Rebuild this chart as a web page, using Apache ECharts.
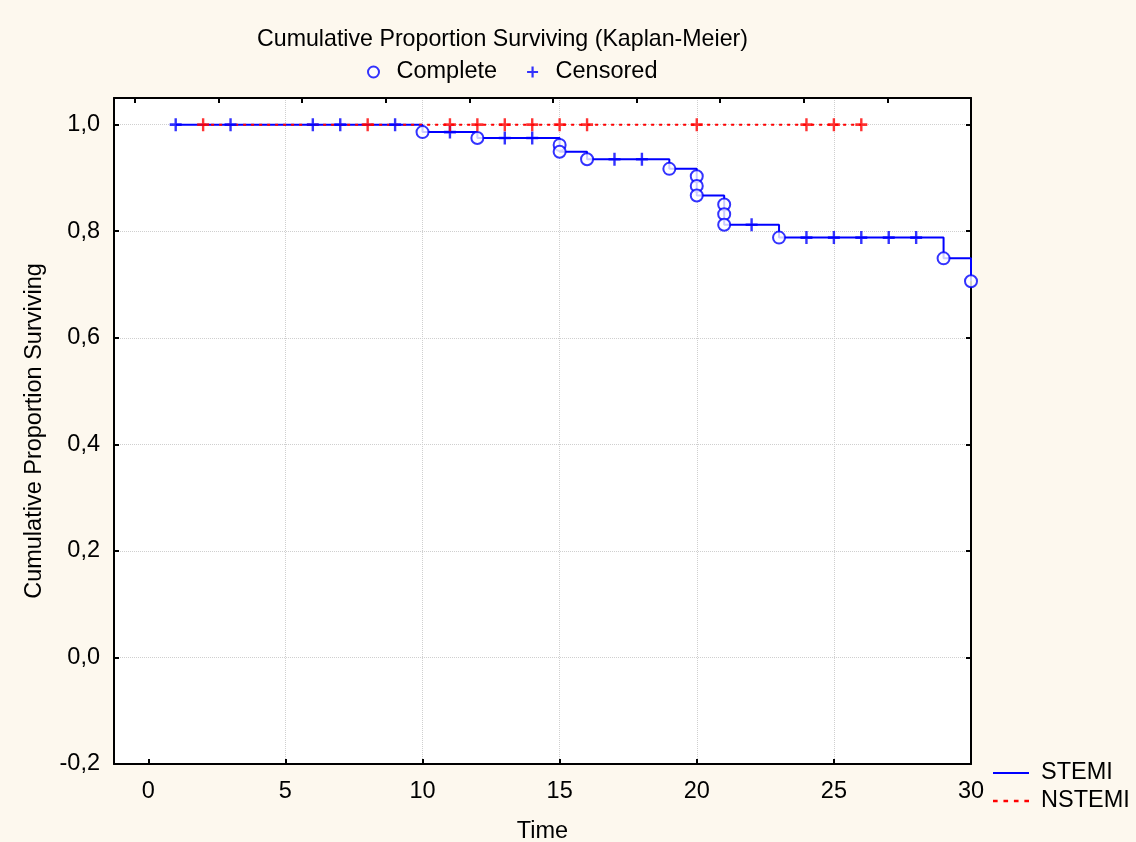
<!DOCTYPE html>
<html>
<head>
<meta charset="utf-8">
<title>Kaplan-Meier</title>
<script src="https://cdn.jsdelivr.net/npm/echarts@6/dist/echarts.min.js"></script>
<style>
  html, body { margin: 0; padding: 0; background: #fdf8ee; }
  #chart { width: 1136px; height: 842px; }
</style>
</head>
<body>
<div id="chart"></div>
<script>
// STEMI step curve (time, survival)
var stemiTimes = [1, 10, 12, 15, 16, 19, 20, 21, 23, 29, 30];
var stemiSurv = [1.0, 0.986, 0.975, 0.949, 0.935, 0.917, 0.867, 0.812, 0.788, 0.749, 0.706];

// complete (event) points, drawn as circles
var completeTimes = [10, 12, 15, 15, 16, 19, 20, 20, 20, 21, 21, 21, 23, 29, 30];
var completeSurv = [0.986, 0.975, 0.962, 0.949, 0.935, 0.917, 0.903, 0.885, 0.867, 0.850, 0.832, 0.812, 0.788, 0.749, 0.706];

// censored STEMI
var stemiCensTimes = [1, 3, 6, 7, 9, 11, 13, 14, 17, 18, 22, 24, 25, 26, 27, 28];
var stemiCensSurv = [1, 1, 1, 1, 1, 0.986, 0.975, 0.975, 0.935, 0.935, 0.812, 0.788, 0.788, 0.788, 0.788, 0.788];

// NSTEMI
var nstemiTimes = [2, 26];
var nstemiSurv = [1, 1];
var nstemiCensTimes = [2, 8, 11, 12, 13, 14, 15, 16, 20, 24, 25, 26];
var nstemiCensSurv = [1, 1, 1, 1, 1, 1, 1, 1, 1, 1, 1, 1];

var xTicks = [0, 5, 10, 15, 20, 25, 30];
var topTicks = [0, 1, 2, 3, 4, 5, 6, 7, 8, 9, 10];

function pairs(xs, ys) {
  var out = [];
  for (var i = 0; i < xs.length; i++) out.push([xs[i], ys[i]]);
  return out;
}

var PLUS = 'path://M4,0H6V4H10V6H6V10H4V6H0V4H4Z';
var SOLID_ICON = 'path://M0,0H36V2H0Z';
var DOT_ICON = 'path://M0,0H4V2H0ZM9,0H13V2H9ZM18,0H22V2H18ZM27,0H31V2H27Z';
var FONT = 'Liberation Sans, Arial, sans-serif';
var FS = 23.5;

var myChart = echarts.init(document.getElementById('chart'));
var option = {
  animation: false,
  backgroundColor: '#fdf8ee',
  textStyle: { fontFamily: FONT, color: '#000' },
  title: {
    text: 'Cumulative Proportion Surviving (Kaplan-Meier)',
    left: 252,
    top: 23,
    textStyle: { fontFamily: FONT, fontSize: 23.2, fontWeight: 'normal', color: '#000' }
  },
  legend: [
    {
      data: ['Complete', 'Censored'],
      left: 362,
      top: 55,
      itemWidth: 36,
      itemHeight: 11,
      itemGap: 30,
      textStyle: { fontFamily: FONT, fontSize: FS, color: '#000' }
    },
    {
      data: [
        { name: 'STEMI', icon: SOLID_ICON },
        { name: 'NSTEMI', icon: DOT_ICON }
      ],
      orient: 'vertical',
      left: 988,
      top: 756,
      itemWidth: 36,
      itemHeight: 14,
      itemGap: 4,
      textStyle: { fontFamily: FONT, fontSize: FS, color: '#000', padding: [0, 0, 0, 7] }
    }
  ],
  grid: {
    left: 114,
    right: 165,
    top: 98,
    bottom: 78,
    outerBoundsMode: 'none',
    show: true,
    backgroundColor: '#ffffff',
    borderWidth: 0
  },
  xAxis: [
    {
      type: 'value',
      min: -1.25,
      max: 30,
      name: 'Time',
      nameLocation: 'middle',
      nameGap: 56,
      nameTextStyle: { fontFamily: FONT, fontSize: FS, color: '#000' },
      axisLine: { show: true, onZero: false, lineStyle: { color: '#000', width: 2 } },
      axisTick: { inside: true, length: 5, customValues: xTicks, lineStyle: { color: '#000', width: 2 } },
      axisLabel: { fontFamily: FONT, fontSize: FS, color: '#000', margin: 16, customValues: xTicks },
      splitLine: { show: true, showMinLine: false, showMaxLine: false, lineStyle: { color: '#cfcfcf', type: 'dotted' } }
    },
    {
      type: 'value',
      position: 'top',
      min: -0.25,
      max: 10,
      axisLine: { show: true, onZero: false, lineStyle: { color: '#000', width: 2 } },
      axisTick: { inside: true, length: 5, customValues: topTicks, lineStyle: { color: '#000', width: 2 } },
      axisLabel: { show: false },
      splitLine: { show: false }
    }
  ],
  yAxis: [
    {
      type: 'value',
      min: -0.2,
      max: 1.05,
      interval: 0.2,
      name: 'Cumulative Proportion Surviving',
      nameLocation: 'middle',
      nameGap: 67,
      nameTextStyle: { fontFamily: FONT, fontSize: FS, color: '#000' },
      axisLine: { show: true, onZero: false, lineStyle: { color: '#000', width: 2 } },
      axisTick: { inside: true, length: 5, lineStyle: { color: '#000', width: 2 } },
      axisLabel: {
        fontFamily: FONT, fontSize: FS, color: '#000', margin: 14, showMaxLabel: false,
        formatter: function (v) { return v.toFixed(1).replace('.', ','); }
      },
      splitLine: { show: true, showMinLine: false, showMaxLine: false, lineStyle: { color: '#cfcfcf', type: 'dotted' } }
    },
    {
      type: 'value',
      position: 'right',
      min: -0.2,
      max: 1.05,
      interval: 0.2,
      axisLine: { show: true, onZero: false, lineStyle: { color: '#000', width: 2 } },
      axisTick: { inside: true, length: 5, lineStyle: { color: '#000', width: 2 } },
      axisLabel: { show: false },
      splitLine: { show: false }
    }
  ],
  series: [
    {
      name: 'STEMI',
      type: 'line',
      step: 'end',
      symbol: 'none',
      color: '#0000ff',
      lineStyle: { color: '#0000ff', width: 2 },
      data: pairs(stemiTimes, stemiSurv),
      z: 2
    },
    {
      name: 'NSTEMI',
      type: 'line',
      symbol: 'none',
      color: '#ff0000',
      lineStyle: { color: '#ff0000', width: 2, type: [3, 5] },
      data: pairs(nstemiTimes, nstemiSurv),
      z: 3
    },
    {
      name: 'Complete',
      type: 'scatter',
      symbol: 'emptyCircle',
      symbolSize: 12,
      itemStyle: { color: '#0000ff', borderColor: '#0000ff', borderWidth: 2 },
      data: pairs(completeTimes, completeSurv),
      z: 4
    },
    {
      name: 'Censored',
      type: 'scatter',
      symbol: PLUS,
      symbolSize: [12, 13],
      itemStyle: { color: '#0000ff' },
      data: pairs(stemiCensTimes, stemiCensSurv),
      z: 4
    },
    {
      name: 'NSTEMI censored',
      type: 'scatter',
      symbol: PLUS,
      symbolSize: [12, 13],
      itemStyle: { color: '#ff0000' },
      data: pairs(nstemiCensTimes, nstemiCensSurv),
      z: 5
    }
  ]
};
option && myChart.setOption(option);
</script>
</body>
</html>
